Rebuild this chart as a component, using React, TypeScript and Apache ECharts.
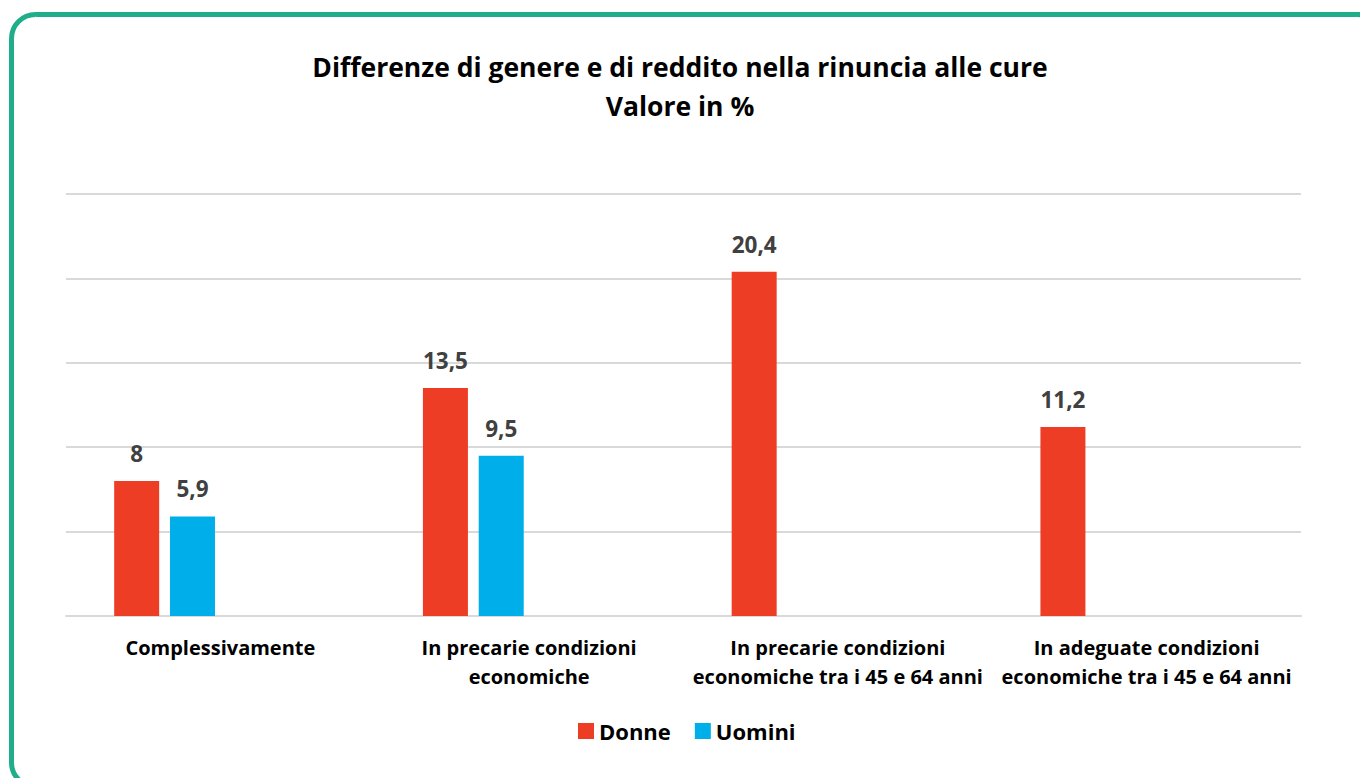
import React, { useEffect, useRef } from "react";
import * as echarts from "echarts";

const titleLines = ["Differenze di genere e di reddito nella rinuncia alle cure", "Valore in %"];
const categories = [
  "Complessivamente",
  "In precarie condizioni\neconomiche",
  "In precarie condizioni\neconomiche tra i 45 e 64 anni",
  "In adeguate condizioni\neconomiche tra i 45 e 64 anni",
];
const donne = [8, 13.5, 20.4, 11.2];
const uomini: (number | null)[] = [5.9, 9.5, null, null];
const seriesNames = ["Donne", "Uomini"];
const colors = ["#EE3D25", "#00AEEA"];

const FONT = "'Open Sans', sans-serif";

export default function App() {
  const ref = useRef<HTMLDivElement>(null);
  useEffect(() => {
    if (!ref.current) return;
    const chart = echarts.init(ref.current, undefined, { renderer: "svg" });
    const fmt = (p: any) => (p.value == null ? "" : String(p.value).replace(".", ","));
    const labelCfg = {
      show: true,
      position: "top" as const,
      distance: 16,
      formatter: fmt,
      color: "#404040",
      fontFamily: FONT,
      fontWeight: "bold" as const,
      fontSize: 22.5,
    };
    chart.setOption({
      animation: false,
      backgroundColor: "#ffffff",
      title: {
        text: titleLines.join("\n"),
        left: "center",
        top: 42,
        textStyle: {
          fontFamily: FONT,
          fontWeight: "bold",
          fontSize: 26.5,
          lineHeight: 39,
          color: "#000000",
        },
      },
      legend: {
        data: seriesNames,
        bottom: 31,
        left: 573,
        itemWidth: 16,
        itemHeight: 16,
        itemGap: 24,
        icon: "rect",
        textStyle: { fontFamily: FONT, fontWeight: "bold", fontSize: 22, color: "#000000" },
      },
      grid: { left: 66, right: 59, top: 194, bottom: 162, containLabel: false },
      xAxis: {
        type: "category",
        data: categories,
        axisLine: { show: true, lineStyle: { color: "#D9D9D9", width: 2 } },
        axisTick: { show: false },
        axisLabel: {
          interval: 0,
          margin: 17,
          fontFamily: FONT,
          fontWeight: "bold",
          fontSize: 20,
          lineHeight: 29,
          color: "#000000",
        },
      },
      yAxis: {
        type: "value",
        min: 0,
        max: 25,
        interval: 5,
        axisLabel: { show: false },
        axisLine: { show: false },
        axisTick: { show: false },
        splitLine: { lineStyle: { color: "#D9D9D9", width: 2 } },
      },
      series: [
        {
          name: seriesNames[0],
          type: "bar",
          data: donne,
          barWidth: 45,
          barGap: "24%",
          barCategoryGap: "31%",
          itemStyle: { color: colors[0] },
          label: labelCfg,
        },
        {
          name: seriesNames[1],
          type: "bar",
          data: uomini,
          barWidth: 45,
          barGap: "24%",
          itemStyle: { color: colors[1] },
          label: labelCfg,
        },
        { name: "s3", type: "bar", data: [null, null, null, null], barWidth: 45, barGap: "24%" },
        { name: "s4", type: "bar", data: [null, null, null, null], barWidth: 45, barGap: "24%" },
      ],
      graphic: [
        {
          type: "rect",
          shape: { x: 11.5, y: 14.5, width: 1370, height: 772, r: 24 },
          style: { fill: "none", stroke: "#1FAD8A", lineWidth: 5 },
          silent: true,
          z: 100,
        },
      ],
    });
    return () => chart.dispose();
  }, []);
  return (
    <div
      ref={ref}
      style={{ position: "fixed", left: 0, top: 0, width: 1360, height: 778 }}
    />
  );
}
